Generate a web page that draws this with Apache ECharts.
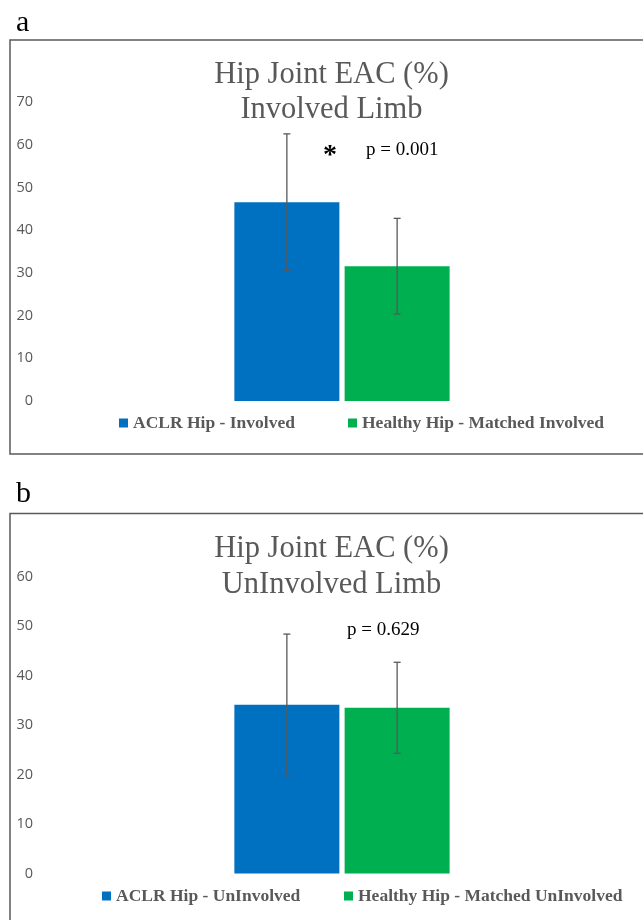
<!DOCTYPE html>
<html>
<head>
<meta charset="utf-8">
<script src="https://cdn.jsdelivr.net/npm/echarts@6/dist/echarts.min.js"></script>
<style>html,body{margin:0;padding:0;background:#fff}#c{width:643px;height:920px}</style>
</head>
<body>
<div id="c"></div>
<script>
// ---- data ----
const categories = ['Hip Joint EAC'];
const namesA = ['ACLR Hip - Involved', 'Healthy Hip - Matched Involved'];
const meansA = [46.6, 31.6];
const sdsA = [16.0, 11.2];
const namesB = ['ACLR Hip - UnInvolved', 'Healthy Hip - Matched UnInvolved'];
const meansB = [34.1, 33.5];
const sdsB = [14.3, 9.2];
const yMaxA = 70, yMaxB = 60, yStep = 10;
const titleA = 'Hip Joint EAC (%)\nInvolved Limb';
const titleB = 'Hip Joint EAC (%)\nUnInvolved Limb';
const pTextA = 'p = 0.001';
const pTextB = 'p = 0.629';
const starA = '*';

// ---- style ----
const colors = ['#0070C0', '#00B050'];
const gray = '#595959';
const serif = '"Liberation Serif", "Times New Roman", serif';
const sans = '"Open Sans", "Liberation Sans", sans-serif';
const barW = 105, gapPct = 5;
const halfOff = (barW + barW * gapPct / 100) / 2;

const chart = echarts.init(document.getElementById('c'), null, {renderer: 'canvas'});

function errSeries(means, sds, axisIdx) {
  return {
    type: 'custom',
    xAxisIndex: axisIdx, yAxisIndex: axisIdx,
    silent: true, z: 5,
    data: means.map((m, i) => [0, m, sds[i], i]),
    encode: {x: 0, y: 1},
    renderItem: function (params, api) {
      const m = api.value(1), s = api.value(2), bi = api.value(3);
      const c = api.coord([0, m]);
      const x = c[0] + (bi === 0 ? -halfOff : halfOff);
      const yt = api.coord([0, m + s])[1];
      const yb = api.coord([0, m - s])[1];
      const cap = 3.5;
      const st = {stroke: gray, lineWidth: 1.3, fill: null};
      return {type: 'group', children: [
        {type: 'line', shape: {x1: x, y1: yt, x2: x, y2: yb}, style: st},
        {type: 'line', shape: {x1: x - cap, y1: yt, x2: x + cap, y2: yt}, style: st},
        {type: 'line', shape: {x1: x - cap, y1: yb, x2: x + cap, y2: yb}, style: st}
      ]};
    }
  };
}

function barSeries(name, val, color, axisIdx) {
  return {
    name: name, type: 'bar', xAxisIndex: axisIdx, yAxisIndex: axisIdx,
    data: [val], barWidth: barW, barGap: gapPct + '%',
    itemStyle: {color: color}, silent: true
  };
}

function legend(name, left, top) {
  return {
    data: [name], left: left, top: top, orient: 'horizontal',
    icon: 'rect', itemWidth: 9, itemHeight: 9, selectedMode: false,
    padding: 0,
    textStyle: {fontFamily: serif, fontWeight: 'bold', fontSize: 17.5, color: gray, lineHeight: 20}
  };
}

const yAxisCommon = {
  type: 'value', min: 0, interval: yStep,
  axisLine: {show: false}, axisTick: {show: false}, splitLine: {show: false},
  axisLabel: {color: gray, fontSize: 14.5, fontFamily: sans, margin: 8}
};
const xAxisCommon = {
  type: 'category', data: categories,
  axisLine: {show: false}, axisTick: {show: false}, axisLabel: {show: false}
};

const option = {
  animation: false,
  backgroundColor: '#fff',
  title: [
    {text: titleA, left: 331.5, top: 57, padding: 0, textAlign: 'center',
     textStyle: {fontFamily: serif, fontWeight: 'normal', fontSize: 30.5, lineHeight: 35.5, color: gray}},
    {text: titleB, left: 331.5, top: 531, padding: 0, textAlign: 'center',
     textStyle: {fontFamily: serif, fontWeight: 'normal', fontSize: 30.5, lineHeight: 36, color: gray}}
  ],
  grid: [
    {left: 41, width: 602, top: 102.3, height: 298.7},
    {left: 41, width: 602, top: 576.7, height: 296.8}
  ],
  xAxis: [Object.assign({gridIndex: 0}, xAxisCommon), Object.assign({gridIndex: 1}, xAxisCommon)],
  yAxis: [
    Object.assign({gridIndex: 0, max: yMaxA}, yAxisCommon),
    Object.assign({gridIndex: 1, max: yMaxB}, yAxisCommon)
  ],
  legend: [
    legend(namesA[0], 119, 413),
    legend(namesA[1], 348, 413),
    legend(namesB[0], 102, 886),
    legend(namesB[1], 344, 886)
  ],
  series: [
    barSeries(namesA[0], meansA[0], colors[0], 0),
    barSeries(namesA[1], meansA[1], colors[1], 0),
    errSeries(meansA, sdsA, 0),
    barSeries(namesB[0], meansB[0], colors[0], 1),
    barSeries(namesB[1], meansB[1], colors[1], 1),
    errSeries(meansB, sdsB, 1)
  ],
  graphic: [
    {type: 'rect', z: -10, silent: true, shape: {x: 10, y: 40, width: 660, height: 414},
     style: {fill: 'none', stroke: '#5a5a5a', lineWidth: 1.5}},
    {type: 'rect', z: -10, silent: true, shape: {x: 10, y: 513.5, width: 660, height: 440},
     style: {fill: 'none', stroke: '#5a5a5a', lineWidth: 1.5}},
    {type: 'text', left: 16, top: 8, style: {text: 'a', font: '30px ' + serif, fill: '#000'}},
    {type: 'text', left: 16, top: 479, style: {text: 'b', font: '30px ' + serif, fill: '#000'}},
    {type: 'text', left: 323, top: 142, style: {text: starA, font: 'bold 28px ' + serif, fill: '#000'}},
    {type: 'text', left: 366, top: 141, style: {text: pTextA, font: '19px ' + serif, fill: '#000'}},
    {type: 'text', left: 347, top: 621, style: {text: pTextB, font: '19px ' + serif, fill: '#000'}}
  ]
};
chart.setOption(option);
</script>
</body>
</html>
